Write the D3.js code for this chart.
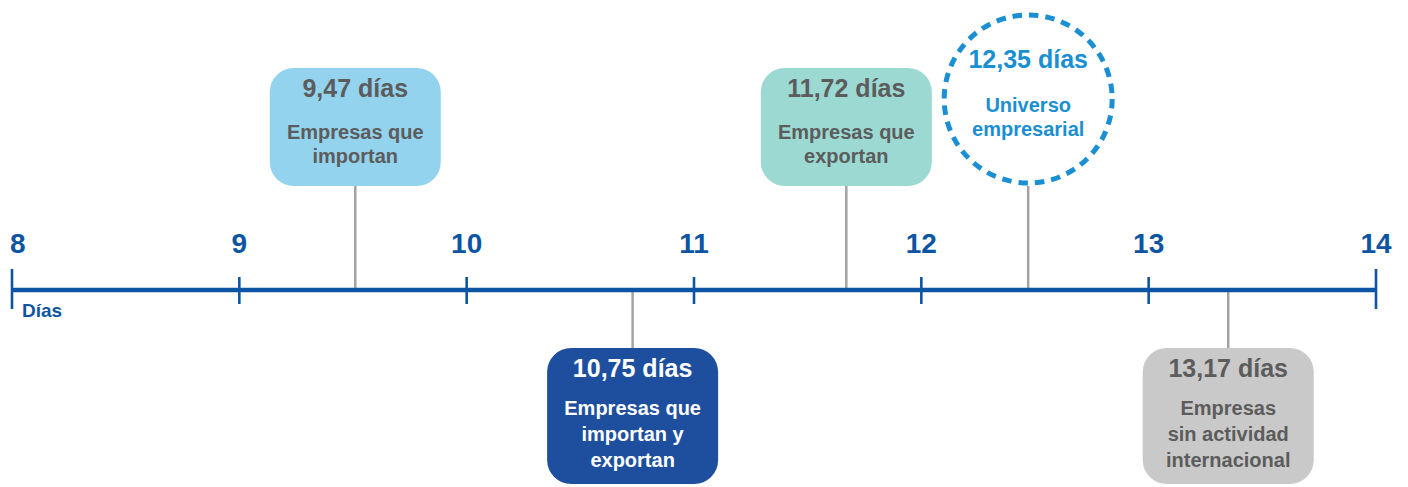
<!doctype html>
<html lang="es">
<head>
  <meta charset="utf-8">
  <title>Días por tipo de empresa</title>
  <style>
    html, body { margin: 0; padding: 0; background: #fff; }
    svg { display: block; font-family: "Liberation Sans", Arial, sans-serif; font-weight: bold; }
  </style>
</head>
<body>
  <div id="chart"></div>
  <script src="https://d3js.org/d3.v7.min.js"></script>
  <script>
    // Data ----------------------------------------------------------------
    const tickValues = [8, 9, 10, 11, 12, 13, 14];
    const days = [9.47, 10.75, 11.72, 12.35, 13.17];
    // where each callout meets the axis in the original picture
    const markerAt = [9.51, 10.73, 11.67, 12.47, 13.35];
    const labelLines = [
      ["Empresas que", "importan"],
      ["Empresas que", "importan y", "exportan"],
      ["Empresas que", "exportan"],
      ["Universo", "empresarial"],
      ["Empresas", "sin actividad", "internacional"]
    ];
    const sides = ["up", "down", "up", "up", "down"];
    const shapes = ["box", "box", "box", "circle", "box"];
    const fills = ["#93d3ee", "#1e4f9f", "#9bd9d2", "none", "#c9c9c9"];
    const textColors = ["#5c5c5c", "#ffffff", "#5c5c5c", "#1a8fd3", "#5c5c5c"];

    // Layout --------------------------------------------------------------
    const width = 1408;
    const height = 487;
    const axisY = 290;
    const blue = "#0d55a3";

    const svg = d3.select("#chart")
      .append("svg")
      .attr("width", width)
      .attr("height", height);

    const x = d3.scaleLinear()
      .domain([8, 14])
      .range([12, 1376]);

    const fmt = v => v.toFixed(2).replace(".", ",") + " días";

    const items = days.map((d, i) => ({
      value: d,
      at: markerAt[i],
      lines: labelLines[i],
      side: sides[i],
      shape: shapes[i],
      fill: fills[i],
      color: textColors[i]
    }));

    // Connectors (drawn first, under the boxes) ---------------------------
    svg.append("g")
      .selectAll("line")
      .data(items)
      .join("line")
      .attr("x1", d => x(d.at))
      .attr("x2", d => x(d.at))
      .attr("y1", axisY)
      .attr("y2", d => d.side === "up" ? axisY - 104 : axisY + 58)
      .attr("stroke", "#a3a3a3")
      .attr("stroke-width", 2.5);

    // Axis ----------------------------------------------------------------
    const axis = svg.append("g");

    axis.append("line")
      .attr("x1", x(8))
      .attr("x2", x(14))
      .attr("y1", axisY)
      .attr("y2", axisY)
      .attr("stroke", blue)
      .attr("stroke-width", 4.5);

    axis.selectAll(".tick")
      .data(tickValues)
      .join("line")
      .attr("class", "tick")
      .attr("x1", d => x(d))
      .attr("x2", d => x(d))
      .attr("y1", (d, i) => (i === 0 || i === tickValues.length - 1) ? axisY - 21 : axisY - 13)
      .attr("y2", (d, i) => (i === 0 || i === tickValues.length - 1) ? axisY + 19 : axisY + 14)
      .attr("stroke", blue)
      .attr("stroke-width", 2.6);

    axis.selectAll(".tick-label")
      .data(tickValues)
      .join("text")
      .attr("class", "tick-label")
      .attr("x", (d, i) => i === 0 ? x(d) - 2 : x(d))
      .attr("y", axisY - 37)
      .attr("text-anchor", (d, i) => i === 0 ? "start" : "middle")
      .attr("fill", blue)
      .style("font-size", "28px")
      .text(d => d);

    axis.append("text")
      .attr("x", 22)
      .attr("y", axisY + 27)
      .attr("fill", blue)
      .style("font-size", "19px")
      .text("Días");

    // Callouts ------------------------------------------------------------
    const boxW = 171;
    const boxH = n => n === 2 ? 118 : 136;

    const callouts = svg.append("g")
      .selectAll("g")
      .data(items)
      .join("g")
      .attr("transform", d => {
        const cx = x(d.at);
        if (d.shape === "circle") return `translate(${cx},${axisY - 191})`;
        const top = d.side === "up" ? axisY - 104 - boxH(d.lines.length) : axisY + 58;
        return `translate(${cx},${top})`;
      });

    callouts.filter(d => d.shape === "box")
      .append("rect")
      .attr("x", -boxW / 2)
      .attr("y", 0)
      .attr("width", boxW)
      .attr("height", d => boxH(d.lines.length))
      .attr("rx", 24)
      .attr("fill", d => d.fill);

    callouts.filter(d => d.shape === "circle")
      .append("circle")
      .attr("r", 84)
      .attr("fill", "none")
      .attr("stroke", "#1a8fd3")
      .attr("stroke-width", 5)
      .attr("stroke-dasharray", "9.5 7");

    callouts.append("text")
      .attr("text-anchor", "middle")
      .attr("y", d => d.shape === "circle" ? -31 : 29)
      .attr("fill", d => d.color)
      .style("font-size", "25px")
      .text(d => fmt(d.value));

    callouts.each(function(d) {
      const lh = d.lines.length === 3 ? 26 : 24;
      const y0 = d.shape === "circle" ? 13 : (d.lines.length === 3 ? 67 : 71);
      d3.select(this)
        .selectAll(".sub")
        .data(d.lines)
        .join("text")
        .attr("class", "sub")
        .attr("text-anchor", "middle")
        .attr("y", (s, j) => y0 + j * lh)
        .attr("fill", d.color)
        .style("font-size", "20px")
        .text(s => s);
    });
  </script>
</body>
</html>
